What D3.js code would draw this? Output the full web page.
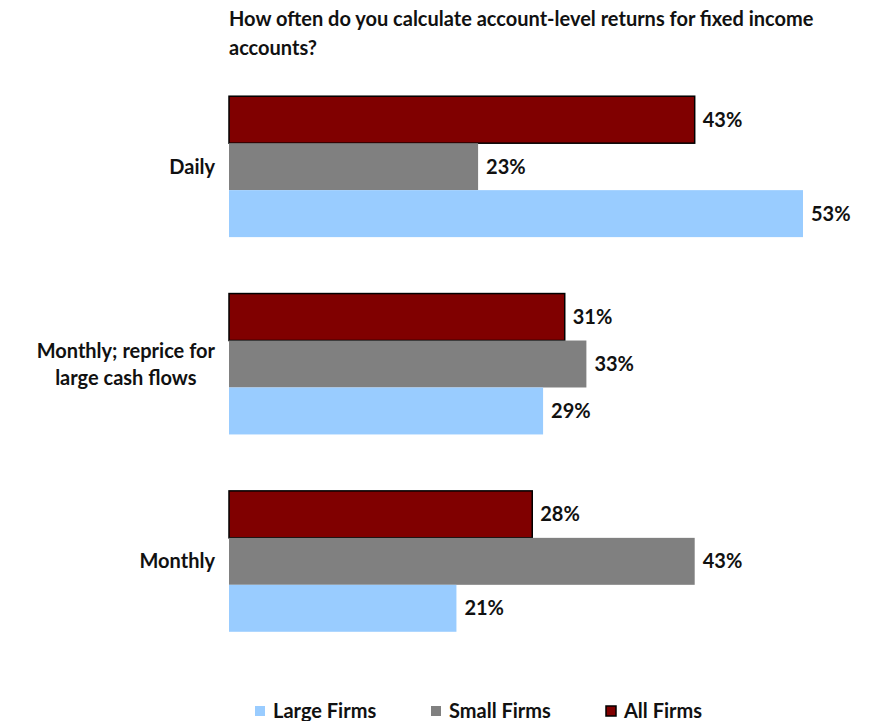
<!DOCTYPE html>
<html>
<head>
<meta charset="utf-8">
<script src="https://cdn.jsdelivr.net/npm/d3@7"></script>
<style>
  body { margin: 0; background: #fff; }
  svg { display: block; font-family: Lato, "Open Sans", sans-serif; font-weight: bold; }
</style>
</head>
<body>
<svg id="chart" width="869" height="721"></svg>
<script>
// Survey response categories (top to bottom)
const categories = ["Daily", "Monthly; reprice for large cash flows", "Monthly"];
const categoryLines = [["Daily"], ["Monthly; reprice for", "large cash flows"], ["Monthly"]];

// Series, in drawing order within each group (top to bottom)
const seriesNames = ["All Firms", "Small Firms", "Large Firms"];
const allFirms   = [43, 31, 28];
const smallFirms = [23, 33, 43];
const largeFirms = [53, 29, 21];

// Legend order (left to right)
const legendOrder = ["Large Firms", "Small Firms", "All Firms"];

const colors = { "All Firms": "#800000", "Small Firms": "#808080", "Large Firms": "#99CCFF" };
const valuesBySeries = { "All Firms": allFirms, "Small Firms": smallFirms, "Large Firms": largeFirms };

const titleLines = ["How often do you calculate account-level returns for fixed income", "accounts?"];

const svg = d3.select("#chart");
const left = 229, plotTop = 68, plotBottom = 660;
const fs = 20;
const ink = "#111";

const x = d3.scaleLinear().domain([0, 53]).range([left, 803]);
const y0 = d3.scaleBand().domain(categories).range([plotTop, plotBottom]).paddingInner(0.286).paddingOuter(0.143);
const y1 = d3.scaleBand().domain(seriesNames).range([0, y0.bandwidth()]);

// Title
svg.append("g").selectAll("text").data(titleLines).join("text")
  .attr("x", left).attr("y", (d, i) => 26 + i * 29)
  .attr("font-size", fs).attr("fill", ink)
  .text(d => d);

// Bars and value labels
const groups = svg.append("g").selectAll("g").data(categories).join("g")
  .attr("transform", d => `translate(0,${y0(d)})`);

groups.each(function(cat, ci) {
  const g = d3.select(this);
  seriesNames.forEach(s => {
    const v = valuesBySeries[s][ci];
    const isAll = s === "All Firms";
    g.append("rect")
      .attr("x", x(0)).attr("y", y1(s))
      .attr("width", x(v) - x(0)).attr("height", y1.bandwidth())
      .attr("fill", colors[s])
      .attr("stroke", isAll ? "#000" : "none")
      .attr("stroke-width", isAll ? 1.5 : 0);
    g.append("text")
      .attr("x", x(v) + 8).attr("y", y1(s) + y1.bandwidth() / 2)
      .attr("dy", "0.35em").attr("font-size", fs).attr("fill", ink)
      .text(v + "%");
  });
});

// Category labels: block right-aligned, lines centred within it
const catG = svg.append("g");
categories.forEach((c, i) => {
  const lines = categoryLines[i];
  const cy = y0(c) + y0.bandwidth() / 2;
  const t = catG.append("text").attr("font-size", fs).attr("fill", ink);
  lines.forEach((ln, li) => {
    t.append("tspan").attr("y", cy + (li - (lines.length - 1) / 2) * 27).attr("dy", "0.35em").text(ln);
  });
  const tspans = t.selectAll("tspan").nodes();
  const maxW = d3.max(tspans.map(n => n.getComputedTextLength()));
  const cx = 215 - maxW / 2;
  tspans.forEach(n => d3.select(n).attr("x", cx).attr("text-anchor", "middle"));
});

// Legend
const legendX = [255, 431, 606];
const leg = svg.append("g").selectAll("g").data(legendOrder).join("g")
  .attr("transform", (d, i) => `translate(${legendX[i]},711)`);
leg.append("rect")
  .attr("x", 0).attr("y", -5).attr("width", 10).attr("height", 10)
  .attr("fill", d => colors[d])
  .attr("stroke", d => d === "All Firms" ? "#000" : "none")
  .attr("stroke-width", 1.5);
leg.append("text").attr("x", 18).attr("dy", "0.35em")
  .attr("font-size", fs).attr("fill", ink).text(d => d);
</script>
</body>
</html>
